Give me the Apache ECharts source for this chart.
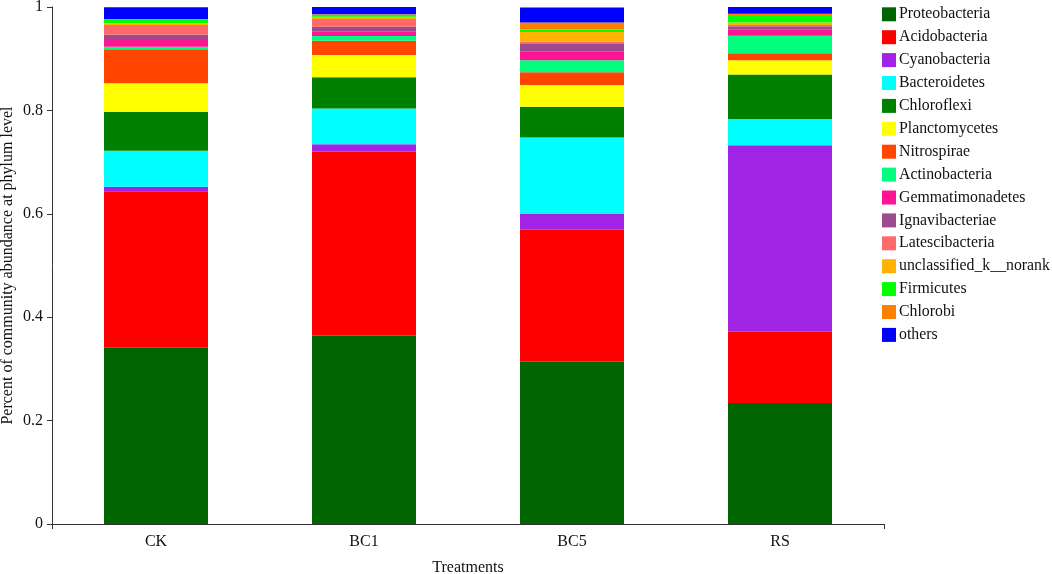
<!DOCTYPE html>
<html>
<head>
<meta charset="utf-8">
<script src="https://cdn.jsdelivr.net/npm/echarts@6/dist/echarts.min.js"></script>
<style>html,body{margin:0;padding:0;background:#fff;}#c{width:1052px;height:574px;}</style>
</head>
<body>
<div id="c"></div>
<script>
const categories = ['CK', 'BC1', 'BC5', 'RS'];
const phyla = ['Proteobacteria','Acidobacteria','Cyanobacteria','Bacteroidetes','Chloroflexi','Planctomycetes','Nitrospirae','Actinobacteria','Gemmatimonadetes','Ignavibacteriae','Latescibacteria','unclassified_k__norank','Firmicutes','Chlorobi','others'];
const colors = ['#006400','#FF0000','#A023E6','#00FFFF','#008000','#FFFF00','#FF4500','#00FF7F','#FF1493','#9E4A8E','#FF6A6A','#FFB300','#00FF00','#FF7F00','#0000FF'];
const Proteobacteria = [0.341, 0.364, 0.314, 0.234];
const Acidobacteria = [0.3025, 0.356, 0.255, 0.138];
const Cyanobacteria = [0.009, 0.0143, 0.0317, 0.3605];
const Bacteroidetes = [0.0696, 0.0696, 0.147, 0.051];
const Chloroflexi = [0.0754, 0.060, 0.0592, 0.0857];
const Planctomycetes = [0.055, 0.0431, 0.042, 0.0279];
const Nitrospirae = [0.0658, 0.0277, 0.025, 0.0135];
const Actinobacteria = [0.005, 0.0091, 0.0232, 0.034];
const Gemmatimonadetes = [0.0149, 0.0091, 0.0174, 0.0124];
const Ignavibacteriae = [0.0083, 0.0089, 0.0141, 0.006];
const Latescibacteria = [0.0188, 0.0149, 0.0046, 0.002];
const unclassified = [0.0033, 0.0044, 0.0186, 0.005];
const Firmicutes = [0.0064, 0.004, 0.0046, 0.0143];
const Chlorobi = [0.002, 0.001, 0.0135, 0.0025];
const others = [0.0226, 0.0139, 0.029, 0.013];
const yTicks = ['0', '0.2', '0.4', '0.6', '0.8', '1'];
const values = [Proteobacteria, Acidobacteria, Cyanobacteria, Bacteroidetes, Chloroflexi, Planctomycetes, Nitrospirae, Actinobacteria, Gemmatimonadetes, Ignavibacteriae, Latescibacteria, unclassified, Firmicutes, Chlorobi, others];

const font = 'Liberation Serif, Times New Roman, serif';
const fs = 16;
const chart = echarts.init(document.getElementById('c'));
chart.setOption({
  animation: false,
  textStyle: {fontFamily: font},
  grid: {left: 52, right: 168, top: 7, bottom: 50, containLabel: false, outerBoundsMode: 'none'},
  legend: {
    orient: 'vertical', left: 882, top: 6.3, padding: 0, itemWidth: 14, itemHeight: 14, itemGap: 6.9,
    icon: 'rect', data: phyla,
    textStyle: {fontFamily: font, fontSize: 15.8, color: '#111', padding: [0,0,0,-2]}
  },
  xAxis: [{
    type: 'category', data: categories, position: 'bottom',
    name: 'Treatments', nameLocation: 'middle', nameGap: 36, nameMoveOverlap: false,
    nameTextStyle: {fontFamily: font, fontSize: fs, color: '#111'},
    axisLine: {lineStyle: {color: '#333', width: 1}},
    axisTick: {alignWithLabel: true, length: 5, lineStyle: {color: '#333'}},
    axisLabel: {fontFamily: font, fontSize: fs, color: '#111', margin: 10}
  }, {
    type: 'value', min: 0, max: 4, interval: 4, position: 'bottom',
    axisLine: {show: false}, axisLabel: {show: false}, splitLine: {show: false},
    axisTick: {show: true, length: 5, lineStyle: {color: '#333'}}
  }],
  yAxis: {
    type: 'value', min: 0, max: 1, interval: 0.2,
    name: 'Percent of community abundance at phylum level', nameLocation: 'middle', nameGap: 36, nameMoveOverlap: false,
    nameTextStyle: {fontFamily: font, fontSize: fs, color: '#111'},
    axisLine: {show: true, lineStyle: {color: '#333', width: 1}},
    axisTick: {show: true, length: 5, lineStyle: {color: '#333'}},
    splitLine: {show: false},
    axisLabel: {fontFamily: font, fontSize: fs, color: '#111', margin: 9,
      formatter: function (v) { return yTicks[Math.round(v / 0.2)]; }}
  },
  series: phyla.map(function (name, i) {
    return {
      name: name, type: 'bar', stack: 'total', xAxisIndex: 0, barWidth: '50%',
      data: values[i], itemStyle: {color: colors[i]}
    };
  })
});
</script>
</body>
</html>
